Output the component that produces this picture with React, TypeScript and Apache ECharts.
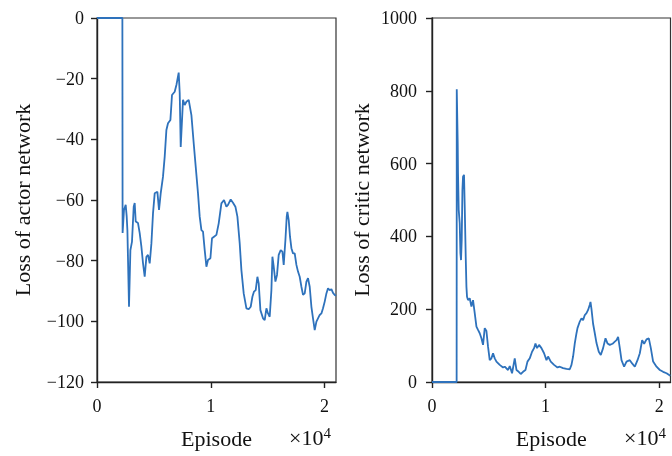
import React, { useEffect, useRef } from "react";
import * as echarts from "echarts";

// Episodes and loss values
const actorEpisodes = [
  0, 2230, 2250, 2372, 2522, 2610, 2671, 2812, 2935, 3075, 3225, 3313, 3401, 3603, 3752, 3901,
  4042, 4191, 4341, 4481, 4631, 4780, 4921, 5070, 5307, 5448, 5597, 5799, 5949, 6098, 6239,
  6450, 6590, 6827, 6977, 7179, 7267, 7355, 7557, 7706, 7856, 8058, 8295, 8497, 8673, 8875,
  9024, 9174, 9314, 9464, 9613, 9754, 9965, 10105, 10281, 10492, 10694, 10931, 11159, 11370,
  11511, 11748, 11950, 12161, 12337, 12539, 12688, 12890, 13128, 13330, 13506, 13655, 13796,
  13945, 14094, 14209, 14358, 14586, 14736, 14885, 15026, 15175, 15324, 15413, 15527, 15676,
  15817, 15966, 16142, 16291, 16405, 16555, 16669, 16730, 16845, 16959, 17082, 17223, 17372,
  17521, 17662, 17811, 17961, 18101, 18251, 18400, 18541, 18690, 18839, 18980, 19129, 19279,
  19419, 19569, 19718, 19859, 20008, 20157, 20298, 20447, 20597, 20737, 20887, 21001,
];
const actorLoss = [
  0, 0, -70.9, -63.3, -61.6, -65.5, -70.0, -95.2, -76.5, -73.7, -62.2, -61.0, -67.1, -67.6,
  -70.9, -75.4, -80.8, -85.3, -78.7, -78.1, -80.9, -74.3, -64.4, -57.8, -57.3, -63.3, -57.8,
  -52.3, -45.7, -36.9, -34.7, -33.6, -25.4, -24.3, -22.1, -18.0, -24.7, -42.5, -27.0, -28.7,
  -27.6, -27.0, -32.0, -41.3, -49.0, -57.8, -65.5, -69.9, -70.4, -76.5, -82.0, -79.8, -79.2,
  -72.6, -72.1, -71.5, -67.7, -61.1, -60.0, -62.2, -61.6, -59.8, -60.9, -62.2, -65.5, -74.3,
  -83.1, -90.8, -95.7, -96.0, -95.2, -91.9, -90.2, -89.7, -85.3, -87.5, -96.3, -99.0, -99.6,
  -95.7, -97.4, -98.5, -89.7, -78.7, -82.0, -86.9, -84.7, -78.1, -76.5, -77.0, -81.4, -73.2,
  -65.5, -63.9, -66.6, -72.1, -75.9, -77.6, -77.6, -81.4, -83.6, -85.3, -88.6, -91.3, -90.8,
  -86.9, -85.8, -88.6, -95.2, -99.0, -102.9, -100.1, -99.0, -97.9, -97.4, -95.7, -93.5, -90.8,
  -89.1, -89.7, -89.4, -90.6, -91.3, -91.6,
];

const criticEpisodes = [
  0, 2170, 2180, 2264, 2291, 2352, 2440, 2502, 2555, 2617, 2678, 2731, 2819, 2881, 2969, 3031,
  3084, 3172, 3321, 3471, 3612, 3762, 3912, 4053, 4202, 4352, 4493, 4643, 4793, 4934, 5083,
  5233, 5374, 5524, 5674, 5964, 6255, 6405, 6696, 6845, 7048, 7286, 7436, 7638, 7814, 8017,
  8229, 8405, 8607, 8810, 8986, 9110, 9251, 9427, 9638, 9867, 10079, 10220, 10457, 10748,
  11048, 11250, 11541, 11841, 12131, 12281, 12422, 12572, 12722, 12810, 13013, 13162, 13303,
  13453, 13603, 13744, 13893, 13955, 14043, 14184, 14334, 14484, 14686, 14862, 15065, 15276,
  15452, 15655, 15893, 16096, 16246, 16387, 16537, 16686, 16915, 17127, 17418, 17620, 17858,
  18096, 18299, 18502, 18678, 18889, 19092, 19268, 19470, 19770, 20061, 20351, 20651, 20985,
];
const criticLoss = [
  0, 0, 804, 656, 573, 473, 436, 354, 335, 390, 527, 564, 569, 482, 344, 262, 234, 225, 230,
  207, 225, 189, 152, 143, 134, 120, 102, 148, 140, 97, 60, 65, 79, 65, 56, 47, 40, 42, 33,
  44, 24, 65, 33, 28, 22, 28, 33, 56, 65, 83, 93, 106, 93, 102, 93, 79, 60, 70, 56, 47, 40,
  42, 38, 36, 35, 47, 70, 106, 134, 148, 166, 175, 170, 184, 189, 198, 212, 220, 200, 160,
  134, 107, 83, 74, 93, 120, 106, 102, 105, 111, 115, 124, 93, 60, 42, 56, 60, 51, 42, 60,
  79, 115, 105, 117, 120, 93, 56, 42, 33, 28, 24, 17,
];

const xTicks = [0, 10000, 20000];
const actorTicks = [-120, -100, -80, -60, -40, -20, 0];
const criticTicks = [0, 200, 400, 600, 800, 1000];

const FONT = "'Liberation Serif', 'DejaVu Serif', serif";
const LINE = "#2e72bc";
const INK = "#111";

function pairs(xs: number[], ys: number[]) {
  return xs.map((x, i) => [x, ys[i]]);
}

export default function App() {
  const ref = useRef<HTMLDivElement>(null);
  useEffect(() => {
    if (!ref.current) return;
    const chart = echarts.init(ref.current, null, { renderer: "svg" });
    const axisCommon = {
      axisLine: { show: true, onZero: false, lineStyle: { color: "#222", width: 1.4 } },
      axisTick: { show: true, inside: false, length: 6, lineStyle: { color: "#222", width: 1.4 } },
      splitLine: { show: false },
      axisLabel: { color: INK, fontFamily: FONT, fontSize: 18 },
      nameTextStyle: { color: INK, fontFamily: FONT, fontSize: 22 },
    };
    const xAxisFor = (gridIndex: number) => ({
      ...axisCommon,
      type: "value",
      gridIndex,
      min: xTicks[0],
      max: 21000,
      interval: 10000,
      name: "Episode",
      nameLocation: "middle",
      nameGap: 45,
      axisLabel: {
        ...axisCommon.axisLabel,
        margin: 15,
        showMaxLabel: false,
        formatter: (v: number) => (xTicks.includes(v) ? String(v / 10000) : ""),
      },
    });
    const fmt = (v: number) => (v < 0 ? "\u2212" + Math.abs(v) : String(v));
    const sup = {
      type: "text",
      top: 425,
      style: {
        text: "×10{s|4}",
        fill: INK,
        font: `22px ${FONT}`,
        rich: { s: { fontSize: 15, fontFamily: FONT, fill: INK, verticalAlign: "top", padding: [0, 0, 10, 0] } },
      },
    };
    chart.setOption({
      animation: false,
      grid: [
        { left: 97, top: 18, width: 239, height: 364, show: true, borderColor: "#333", borderWidth: 1.2, backgroundColor: "transparent" },
        { left: 432, top: 18, width: 238.5, height: 364, show: true, borderColor: "#333", borderWidth: 1.2, backgroundColor: "transparent" },
      ],
      xAxis: [xAxisFor(0), xAxisFor(1)],
      yAxis: [
        {
          ...axisCommon,
          type: "value",
          gridIndex: 0,
          min: actorTicks[0],
          max: actorTicks[actorTicks.length - 1],
          interval: 20,
          name: "Loss of actor network",
          nameLocation: "middle",
          nameGap: 64,
          axisLabel: { ...axisCommon.axisLabel, margin: 13, formatter: fmt },
        },
        {
          ...axisCommon,
          type: "value",
          gridIndex: 1,
          min: criticTicks[0],
          max: criticTicks[criticTicks.length - 1],
          interval: 200,
          name: "Loss of critic network",
          nameLocation: "middle",
          nameGap: 60,
          axisLabel: { ...axisCommon.axisLabel, margin: 15, formatter: fmt },
        },
      ],
      graphic: [
        { ...sup, left: 289 },
        { ...sup, left: 624 },
      ],
      series: [
        {
          type: "line",
          xAxisIndex: 0,
          yAxisIndex: 0,
          data: pairs(actorEpisodes, actorLoss),
          showSymbol: false,
          lineStyle: { color: LINE, width: 1.8 },
          clip: true,
        },
        {
          type: "line",
          xAxisIndex: 1,
          yAxisIndex: 1,
          data: pairs(criticEpisodes, criticLoss),
          showSymbol: false,
          lineStyle: { color: LINE, width: 1.8 },
          clip: true,
        },
      ],
    });
    return () => chart.dispose();
  }, []);
  return (
    <div
      ref={ref}
      style={{ position: "fixed", left: 0, top: 0, width: 672, height: 456 }}
    />
  );
}
